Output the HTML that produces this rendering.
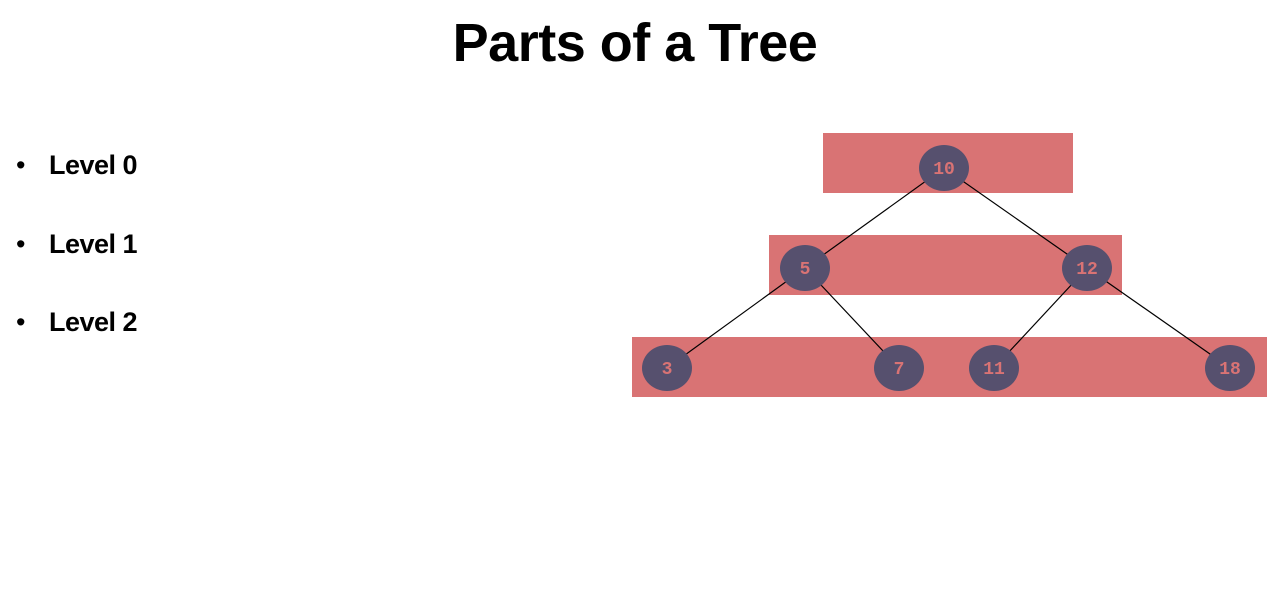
<!DOCTYPE html>
<html><head><meta charset="utf-8"><style>
body{margin:0;width:1287px;height:615px;background:#fff;overflow:hidden;font-family:"Liberation Sans",sans-serif;}
#title{position:absolute;left:0;width:1270px;top:12px;text-align:center;font-size:54px;font-weight:bold;letter-spacing:-0.5px;color:#000;}
.b{position:absolute;left:16px;font-size:27px;font-weight:bold;color:#000;letter-spacing:-0.5px;}
.b span{display:inline-block;width:33px;font-weight:normal;}
</style></head><body>
<div id="title">Parts of a Tree</div>
<div class="b" style="top:150px"><span>•</span>Level 0</div>
<div class="b" style="top:229px"><span>•</span>Level 1</div>
<div class="b" style="top:307px"><span>•</span>Level 2</div>
<svg id="tree" width="1287" height="615" style="position:absolute;left:0;top:0"></svg>
<script>
const levelBands=[[823,133,250,60],[769,235,353,60],[632,337,635,60]];
const nodeLabels=["10","5","12","3","7","11","18"];
const nodeX=[944,805,1087,667,899,994,1230];
const nodeLevel=[0,1,1,2,2,2,2];
const edges=[[0,1],[0,2],[1,3],[1,4],[2,5],[2,6]];
const svg=document.getElementById('tree');const NS='http://www.w3.org/2000/svg';
const levelY=l=>168+l*100;
function mk(t,a){const e=document.createElementNS(NS,t);for(const k in a)e.setAttribute(k,a[k]);svg.appendChild(e);return e;}
levelBands.forEach((b,i)=>{const r=mk('rect',{x:b[0],y:b[1],width:b[2],height:b[3],fill:'#d97374'});

});
edges.forEach(([a,b])=>{const l=mk('line',{x1:nodeX[a],y1:levelY(nodeLevel[a]),x2:nodeX[b],y2:levelY(nodeLevel[b]),stroke:'#000','stroke-width':1.2});

});
nodeLabels.forEach((t,i)=>{const c=mk('ellipse',{cx:nodeX[i],cy:levelY(nodeLevel[i]),rx:25,ry:23,fill:'#56506e'});


const tx=mk('text',{x:nodeX[i],y:levelY(nodeLevel[i])+6,'text-anchor':'middle','font-family':'Liberation Mono, monospace','font-size':18,'font-weight':'bold',fill:'#d97374'});
tx.textContent=t;

});
</script>
</body></html>
